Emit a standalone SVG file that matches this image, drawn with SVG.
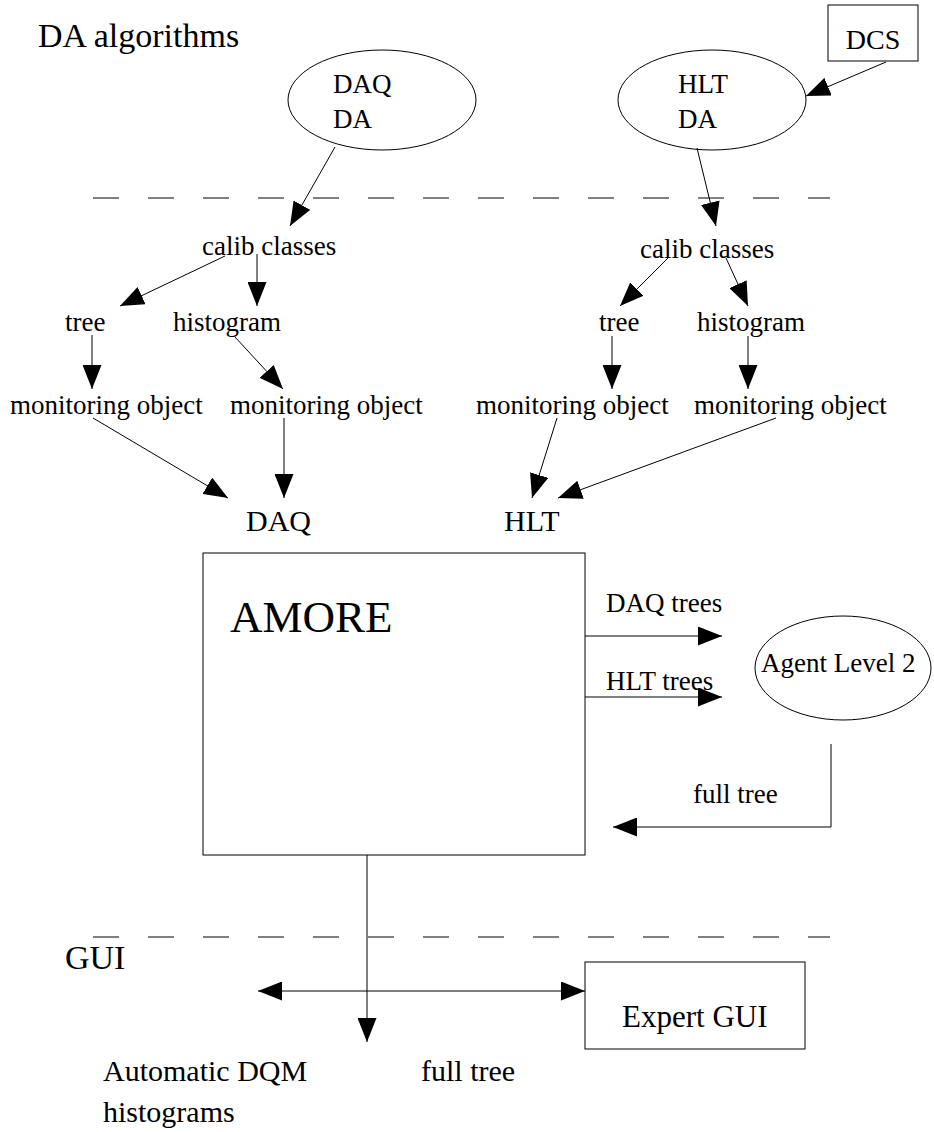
<svg xmlns="http://www.w3.org/2000/svg" width="934" height="1132" viewBox="0 0 934 1132">
<style>
text{font-family:"Liberation Serif","Times New Roman",serif;fill:#000}
.s{font-size:27px}
.m{font-size:30px}
.l{font-size:34px}
.shape{fill:#fff;stroke:#000;stroke-width:1}
.c{fill:none;stroke:#000;stroke-width:1}
.a{marker-end:url(#ah)}
.dash{fill:none;stroke:#000;stroke-width:1;stroke-dasharray:26 29}
</style>
<defs>
<marker id="ah" viewBox="0 0 24 19" refX="24" refY="9.5" markerWidth="24" markerHeight="19" markerUnits="userSpaceOnUse" orient="auto-start-reverse">
<path d="M0,0 L24,9.5 L0,19 z" fill="#000"/>
</marker>
</defs>
<rect width="934" height="1132" fill="#fff"/>

<text id="title" class="l" x="38" y="47">DA algorithms</text>
<text id="gui-label" class="l" x="65" y="969">GUI</text>

<g id="dcs"><rect class="shape" x="828" y="5" width="90" height="56"/><text x="873" y="49" font-size="28" text-anchor="middle">DCS</text></g>
<g id="daq-da"><ellipse class="shape" cx="382" cy="100" rx="94" ry="50"/><text class="s" x="333" y="93">DAQ</text><text class="s" x="333" y="128">DA</text></g>
<g id="hlt-da"><ellipse class="shape" cx="712" cy="100" rx="94" ry="50"/><text class="s" x="678" y="93">HLT</text><text class="s" x="678" y="128">DA</text></g>

<g id="calib-l"><text class="s" x="202" y="255">calib classes</text></g>
<g id="tree-l"><text class="s" x="65" y="331">tree</text></g>
<g id="hist-l"><text class="s" x="173" y="331">histogram</text></g>
<g id="mo-l1"><text class="s" x="10" y="414">monitoring object</text></g>
<g id="mo-l2"><text class="s" x="230" y="414">monitoring object</text></g>
<g id="daq"><text class="m" x="246" y="531">DAQ</text></g>

<g id="calib-r"><text class="s" x="640" y="258">calib classes</text></g>
<g id="tree-r"><text class="s" x="599" y="331">tree</text></g>
<g id="hist-r"><text class="s" x="697" y="331">histogram</text></g>
<g id="mo-r1"><text class="s" x="476" y="414">monitoring object</text></g>
<g id="mo-r2"><text class="s" x="694" y="414">monitoring object</text></g>
<g id="hlt"><text class="m" x="504" y="531">HLT</text></g>

<g id="amore"><rect class="shape" x="203" y="553" width="382" height="302"/><text x="230" y="632" font-size="45">AMORE</text></g>
<g id="agent"><ellipse class="shape" cx="843" cy="668" rx="88" ry="52"/><text class="s" x="761" y="672">Agent Level 2</text></g>
<g id="expert"><rect class="shape" x="585" y="962" width="220" height="87"/><text x="622" y="1027" font-size="31">Expert GUI</text></g>
<g id="auto-dqm"><text class="m" x="103" y="1081">Automatic DQM</text><text class="m" x="103" y="1122">histograms</text></g>

<g id="connectors">
<line class="dash" x1="93" y1="198" x2="830" y2="198"/>
<line class="dash" x1="93" y1="937" x2="830" y2="937"/>
<line class="c a" x1="886" y1="62" x2="806" y2="96"/>
<line class="c a" x1="335" y1="147" x2="290" y2="226"/>
<line class="c a" x1="697" y1="148" x2="716" y2="226"/>
<line class="c a" x1="225" y1="256" x2="120" y2="306"/>
<line class="c a" x1="257" y1="254" x2="257" y2="306"/>
<line class="c a" x1="92" y1="335" x2="92" y2="389"/>
<line class="c a" x1="235" y1="337" x2="283" y2="389"/>
<line class="c a" x1="93" y1="418" x2="228" y2="498"/>
<line class="c a" x1="284" y1="418" x2="284" y2="498"/>
<line class="c a" x1="668" y1="258" x2="620" y2="306"/>
<line class="c a" x1="726" y1="258" x2="748" y2="306"/>
<line class="c a" x1="612" y1="336" x2="612" y2="389"/>
<line class="c a" x1="748" y1="336" x2="748" y2="389"/>
<line class="c a" x1="557" y1="418" x2="532" y2="498"/>
<line class="c a" x1="776" y1="418" x2="558" y2="498"/>
<line class="c a" x1="585" y1="636" x2="722" y2="636"/>
<line class="c a" x1="585" y1="697" x2="722" y2="697"/>
<polyline class="c a" points="831,744 831,827 613,827"/>
<line class="c a" x1="367" y1="855" x2="367" y2="1042"/>
<line class="c a" x1="258" y1="991" x2="585" y2="991" style="marker-start:url(#ah)"/>
<text class="s" x="606" y="612">DAQ trees</text>
<text class="s" x="606" y="690">HLT trees</text>
<text class="s" x="693" y="803">full tree</text>
<text class="m" x="421" y="1081">full tree</text>
</g>
</svg>
